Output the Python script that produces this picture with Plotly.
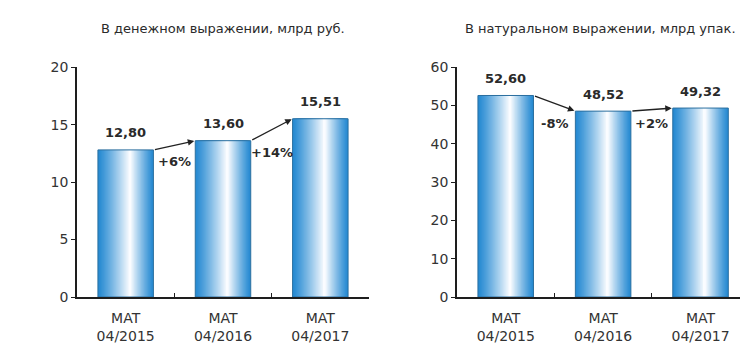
import plotly.graph_objects as go

# ---------------- data ----------------
periods = ["04/2015", "04/2016", "04/2017"]
categories = ["MAT<br>" + p for p in periods]
money_values = [12.80, 13.60, 15.51]
volume_values = [52.60, 48.52, 49.32]
money_changes = ["+6%", "+14%"]
volume_changes = ["-8%", "+2%"]
money_title = "В денежном выражении, млрд руб."
volume_title = "В натуральном выражении, млрд упак."
money_ticks = [0, 5, 10, 15, 20]
volume_ticks = [0, 10, 20, 30, 40, 50, 60]

# ---------------- style ----------------
FONT = "DejaVu Sans"
TXT = "#2a2a2a"
AXC = "#1e1e1e"
W = 0.57          # bar width (category units)
C = 0.58          # position of the white highlight inside the bar
K = 30            # gradient layers
BLUE = (38, 138, 210)
WHITE = (250, 252, 255)

W_PX, H_PX = 740, 347
y_dom = [44 / H_PX, 285 / H_PX]

panels = [
    dict(x="x", y="y", vals=money_values, changes=money_changes, title=money_title,
         ticks=money_ticks, ymax=20, dom=[77 / W_PX, 369 / W_PX], xr=[-0.5, 2.5], tx=223),
    dict(x="x2", y="y2", vals=volume_values, changes=volume_changes, title=volume_title,
         ticks=volume_ticks, ymax=60, dom=[457 / W_PX, 1.0], xr=[-0.5, 2.405], tx=600),
]


def blend(a, b, t):
    return "rgb(%d,%d,%d)" % tuple(round(a[i] + (b[i] - a[i]) * t) for i in range(3))


fig = go.Figure()
annotations = []

for p in panels:
    # gradient built from nested overlaid bars
    for k in range(K):
        L = C * k / K
        R = 1 - (1 - C) * k / K
        t = (k / (K - 1)) ** 1.15
        fig.add_trace(go.Bar(
            x=categories, y=p["vals"], width=W * (R - L), offset=-W / 2 + W * L,
            marker=dict(color=blend(BLUE, WHITE, t), line=dict(width=0)),
            xaxis=p["x"], yaxis=p["y"], showlegend=False, hoverinfo="skip"))
    # outline
    fig.add_trace(go.Bar(
        x=categories, y=p["vals"], width=W, offset=-W / 2,
        marker=dict(color="rgba(0,0,0,0)", line=dict(width=1, color="#2b6f9f")),
        xaxis=p["x"], yaxis=p["y"], showlegend=False, hoverinfo="skip"))

    xref, yref = p["x"], p["y"]
    # value labels
    for i, v in enumerate(p["vals"]):
        annotations.append(dict(
            x=i, y=v, xref=xref, yref=yref, text="<b>%s</b>" % f"{v:.2f}".replace(".", ","),
            showarrow=False, yanchor="middle", yshift=17,
            font=dict(family=FONT, size=13, color=TXT)))
    # arrows and change labels
    vals = p["vals"]
    for i, ch in enumerate(p["changes"]):
        annotations.append(dict(
            x=i + 1 - W / 2, y=vals[i + 1], ax=i + W / 2, ay=vals[i],
            xref=xref, yref=yref, axref=xref, ayref=yref, text="",
            showarrow=True, arrowhead=2, arrowsize=1, arrowwidth=1.3,
            arrowcolor="#222222", standoff=1))
        annotations.append(dict(
            x=i + 0.5, y=min(vals[i], vals[i + 1]), xref=xref, yref=yref,
            text="<b>%s</b>" % ch, showarrow=False, yanchor="middle", yshift=-12,
            font=dict(family=FONT, size=13, color=TXT)))
    # panel title
    annotations.append(dict(
        x=p["tx"] / W_PX, y=1 - 22 / H_PX, xref="paper", yref="paper",
        text=p["title"], showarrow=False, xanchor="center", yanchor="middle",
        font=dict(family=FONT, size=13, color=TXT)))

axis_font = dict(family=FONT, size=14, color="#333333")
layout = dict(
    width=W_PX, height=H_PX, margin=dict(l=0, r=0, t=0, b=0),
    paper_bgcolor="white", plot_bgcolor="white", barmode="overlay",
    annotations=annotations, showlegend=False,
)
for n, p in enumerate(panels):
    sx = "" if n == 0 else str(n + 1)
    layout["xaxis" + sx] = dict(
        domain=p["dom"], range=p["xr"], type="category", anchor=p["y"],
        showline=True, linecolor=AXC, linewidth=1.8, showgrid=False, zeroline=False,
        ticks="inside", tickson="boundaries", ticklen=4, tickcolor=AXC, tickwidth=1,
        tickfont=axis_font, ticklabelstandoff=7, fixedrange=True)
    layout["yaxis" + sx] = dict(
        domain=y_dom, range=[0, p["ymax"]], anchor=p["x"], tickvals=p["ticks"],
        showline=True, linecolor=AXC, linewidth=1.8, showgrid=False, zeroline=False,
        ticks="outside", ticklen=4, tickcolor=AXC, tickwidth=1,
        tickfont=axis_font, fixedrange=True)

fig.update_layout(**layout)
fig.write_html("out.html")
